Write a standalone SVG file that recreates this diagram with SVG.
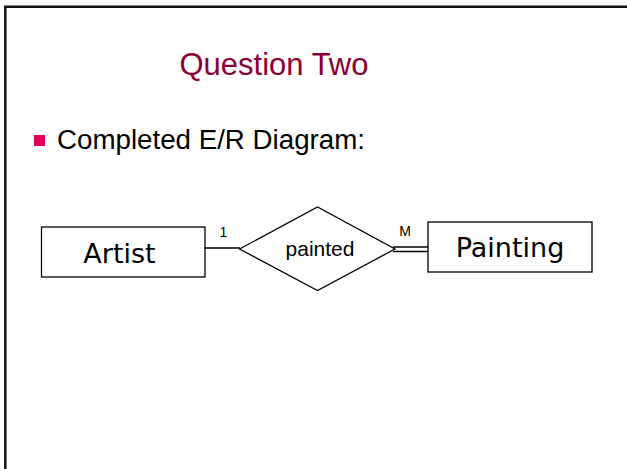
<svg xmlns="http://www.w3.org/2000/svg" width="627" height="469" viewBox="0 0 627 469">
  <style>
    .frame { fill: none; stroke: #111; stroke-width: 2.5; }
    .title { font-family: "Liberation Sans", Arial, sans-serif; font-size: 31px; fill: #8a0036; text-anchor: middle; }
    .bullet-text { font-family: "Liberation Sans", Arial, sans-serif; font-size: 27px; fill: #000; }
    .entity rect { fill: #fff; stroke: #000; stroke-width: 1.3; }
    .entity text { font-family: "DejaVu Sans", Verdana, sans-serif; font-size: 27px; fill: #000; text-anchor: middle; }
    .rel polygon { fill: #fff; stroke: #000; stroke-width: 1.3; }
    .rel text { font-family: "Liberation Sans", Arial, sans-serif; font-size: 21px; fill: #000; text-anchor: middle; }
    .card { font-family: "Liberation Sans", Arial, sans-serif; font-size: 14px; fill: #000; text-anchor: middle; }
    .edge { stroke: #000; stroke-width: 1.3; fill: none; }
  </style>

  <rect width="627" height="469" fill="#fff"/>
  <!-- slide frame -->
  <path class="frame" d="M5.3,469 V6.8 H627"/>

  <text class="title" x="274" y="75">Question Two</text>

  <rect x="34" y="135" width="11" height="11" fill="#e0005a"/>
  <text class="bullet-text" x="57" y="149" textLength="308" lengthAdjust="spacingAndGlyphs">Completed E/R Diagram:</text>

  <!-- connectors -->
  <g id="connectors">
    <line class="edge" x1="205" y1="248" x2="240" y2="248"/>
    <line class="edge" x1="393" y1="247" x2="428" y2="247"/>
    <line class="edge" x1="393" y1="251.5" x2="428" y2="251.5"/>
    <text class="card" x="223.5" y="237">1</text>
    <text class="card" x="405" y="236">M</text>
  </g>

  <g id="artist" class="entity">
    <rect x="41.5" y="227" width="163.5" height="50"/>
    <text x="119.5" y="263">Artist</text>
  </g>

  <g id="painted" class="rel">
    <polygon points="239.5,249 317.5,207 395,249 317.5,290.5"/>
    <text x="320" y="256">painted</text>
  </g>

  <g id="painting" class="entity">
    <rect x="428" y="222" width="164" height="50"/>
    <text x="510" y="257">Painting</text>
  </g>
</svg>
